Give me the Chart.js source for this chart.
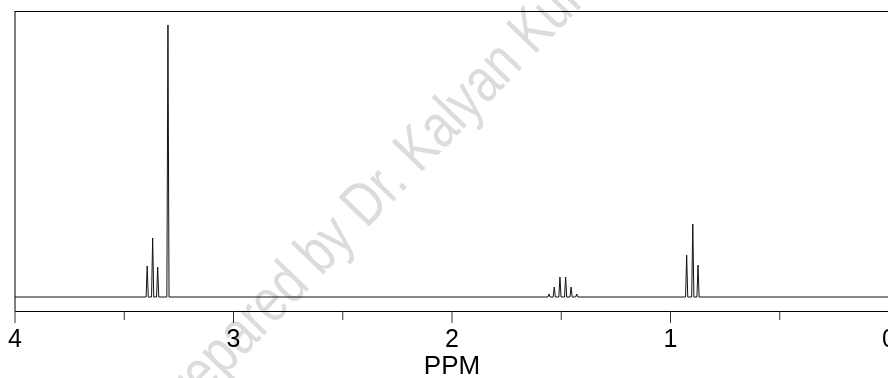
<!DOCTYPE html>
<html>
<head>
<meta charset="utf-8">
<script src="https://cdn.jsdelivr.net/npm/chart.js@4"></script>
<style>
  html, body { margin: 0; padding: 0; background: #fff; overflow: hidden; }
  #wrap { width: 910px; height: 390px; }
</style>
</head>
<body>
<div id="wrap"><canvas id="nmr" width="910" height="390"></canvas></div>
<script>
// peak list (ppm, height above baseline)
const peakPpm = [3.395, 3.370, 3.347, 3.300,
                 1.556, 1.532, 1.506, 1.480, 1.455, 1.429,
                 0.926, 0.898, 0.874];
const peakHeight = [31, 59, 30, 272,
                    3, 10, 20, 20, 10, 3,
                    42, 73, 32];
const axisTicks = [0, 0.5, 1, 1.5, 2, 2.5, 3, 3.5, 4];
const axisTitle = "PPM";
const watermark = "Prepared by Dr. Kalyan Kumar";

// build line points: baseline - peak top - baseline for each line
const halfWidth = 0.005;
const spectrum = [{ x: 0, y: 0 }];
peakPpm.map((p, i) => ({ p: p, h: peakHeight[i] }))
    .sort((a, b) => a.p - b.p)
    .forEach(pk => {
        spectrum.push({ x: pk.p - halfWidth, y: 0 });
        spectrum.push({ x: pk.p, y: pk.h });
        spectrum.push({ x: pk.p + halfWidth, y: 0 });
    });
spectrum.push({ x: 4, y: 0 });

const FONT = "'Liberation Sans', Arial, sans-serif";

// watermark behind the plot (narrow, tall lettering)
const watermarkPlugin = {
    id: "watermark",
    beforeDraw(chart) {
        const ctx = chart.ctx;
        ctx.save();
        ctx.font = "56px " + FONT;
        ctx.fillStyle = "#dcdcdc";
        ctx.textBaseline = "middle";
        const offset = ctx.measureText("Prepared by ").width + ctx.measureText("Dr.").width / 2;
        ctx.translate(376, 195);
        ctx.rotate(-46 * Math.PI / 180);
        ctx.scale(0.88, 1.1);
        ctx.fillText(watermark, -offset, 0);
        ctx.restore();
    }
};

// frame, axis line and tick marks
const framePlugin = {
    id: "frame",
    afterDraw(chart) {
        const ctx = chart.ctx;
        const area = chart.chartArea;
        const xs = chart.scales.x;
        ctx.save();
        ctx.strokeStyle = "#000";
        ctx.lineWidth = 1;
        ctx.beginPath();
        ctx.moveTo(area.left, area.top + 0.5);
        ctx.lineTo(area.right, area.top + 0.5);
        ctx.moveTo(area.left, area.top);
        ctx.lineTo(area.left, area.bottom);
        ctx.moveTo(area.left, area.bottom + 0.5);
        ctx.lineTo(area.right, area.bottom + 0.5);
        ctx.stroke();
        ctx.strokeStyle = "#333";
        xs.ticks.forEach(t => {
            const px = xs.getPixelForValue(t.value);
            const len = Number.isInteger(t.value) ? 12 : 9;
            ctx.beginPath();
            ctx.moveTo(px, area.bottom);
            ctx.lineTo(px, area.bottom + len);
            ctx.stroke();
        });
        ctx.restore();
    }
};

new Chart(document.getElementById("nmr"), {
    type: "line",
    data: {
        datasets: [{
            data: spectrum,
            borderColor: "#111",
            borderWidth: 1,
            pointRadius: 0,
            tension: 0,
            fill: false
        }]
    },
    options: {
        responsive: false,
        animation: false,
        events: [],
        layout: { padding: { left: 15, right: 21, top: 11, bottom: 0 } },
        plugins: { legend: { display: false }, tooltip: { enabled: false } },
        scales: {
            x: {
                type: "linear",
                reverse: true,
                min: 0,
                max: 4,
                afterBuildTicks(scale) {
                    scale.ticks = axisTicks.map(v => ({ value: v }));
                },
                afterFit(scale) { scale.height = 79; },
                grid: { display: false, drawTicks: false },
                border: { display: false },
                ticks: {
                    autoSkip: false,
                    maxRotation: 0,
                    padding: 14,
                    color: "#000",
                    font: { family: FONT, size: 25 },
                    callback: v => Number.isInteger(v) ? String(v) : ""
                },
                title: {
                    display: true,
                    text: axisTitle,
                    color: "#000",
                    font: { family: FONT, size: 26 },
                    padding: { top: 0, bottom: 8 }
                }
            },
            y: {
                display: false,
                min: -14,
                max: 286
            }
        }
    },
    plugins: [watermarkPlugin, framePlugin]
});
</script>
</body>
</html>
